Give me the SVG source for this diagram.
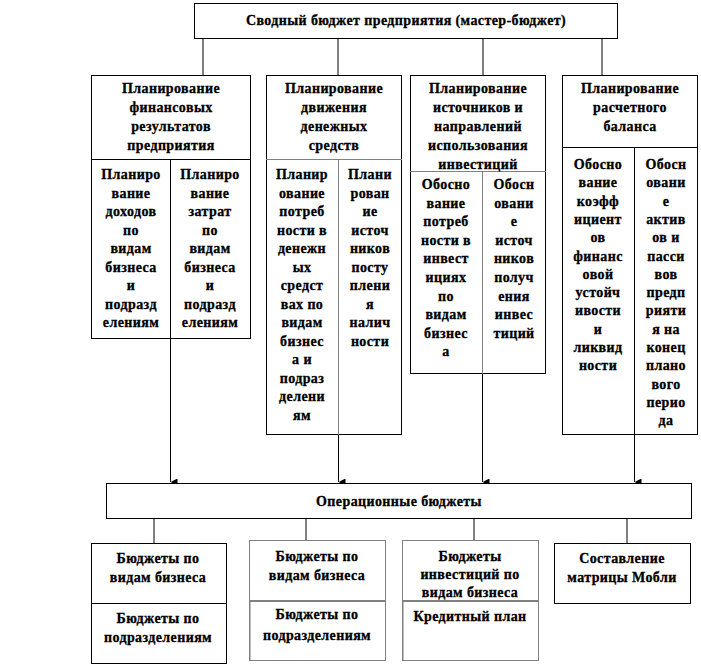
<svg xmlns="http://www.w3.org/2000/svg" width="701" height="666" viewBox="0 0 701 666" font-family="Liberation Serif, Times New Roman, serif">
<style>
text{font-weight:700;font-size:14px;letter-spacing:0.4px;text-anchor:middle;fill:#000;stroke:#000;stroke-width:0.3}
.b{fill:#fff;stroke:#000;stroke-width:1}
.d{fill:#fff;stroke:#000;stroke-width:1;stroke-dasharray:1 1}
.g{stroke:#808080;stroke-width:1}
.g2{stroke:#808080;stroke-width:2}
.ln{stroke:#000;stroke-width:1;fill:none}
</style>
<defs>
<marker id="ah" viewBox="0 0 8 8" refX="4" refY="8" markerWidth="7" markerHeight="7" markerUnits="userSpaceOnUse" orient="auto-start-reverse">
<path d="M0,0 L8,0 L4,8 Z" fill="#000"/>
</marker>
</defs>
<rect width="701" height="666" fill="#fff"/>

<g id="connectors">
<line class="ln" x1="203" y1="39" x2="203" y2="75"/>
<line class="ln" x1="338" y1="39" x2="338" y2="75"/>
<line class="ln" x1="483" y1="39" x2="483" y2="75"/>
<line class="ln" x1="602" y1="39" x2="602" y2="75"/>
<line class="ln" x1="170.5" y1="339" x2="170.5" y2="482" marker-end="url(#ah)"/>
<line class="ln" x1="338.5" y1="435" x2="338.5" y2="482" marker-end="url(#ah)"/>
<line class="ln" x1="482.5" y1="374" x2="482.5" y2="482" marker-end="url(#ah)"/>
<line class="ln" x1="634.5" y1="435" x2="634.5" y2="482" marker-end="url(#ah)"/>
<line class="ln" x1="154" y1="519" x2="154" y2="543"/>
<line class="ln" x1="306" y1="519" x2="306" y2="540"/>
<line class="ln" x1="474" y1="519" x2="474" y2="540"/>
<line class="ln" x1="627" y1="519" x2="627" y2="543"/>
</g>

<g id="master">
<rect class="b" x="194.5" y="3.5" width="423" height="35"/>
<text x="406" y="25">Сводный бюджет предприятия (мастер-бюджет)</text>
</g>

<g id="col1">
<rect class="b" x="91.5" y="75.5" width="159" height="263"/>
<line class="ln" x1="91" y1="159.5" x2="251" y2="159.5"/>
<line class="ln" x1="170.5" y1="159" x2="170.5" y2="339"/>
<text><tspan x="171" y="93">Планирование</tspan><tspan x="171" y="112">финансовых</tspan><tspan x="171" y="131">результатов</tspan><tspan x="171" y="150">предприятия</tspan></text>
<text><tspan x="131" y="179">Планиро</tspan><tspan x="131" y="197.5">вание</tspan><tspan x="131" y="216">доходов</tspan><tspan x="131" y="234.5">по</tspan><tspan x="131" y="253">видам</tspan><tspan x="131" y="271.5">бизнеса</tspan><tspan x="131" y="290">и</tspan><tspan x="131" y="308.5">подразд</tspan><tspan x="131" y="327">елениям</tspan></text>
<text><tspan x="210" y="179">Планиро</tspan><tspan x="210" y="197.5">вание</tspan><tspan x="210" y="216">затрат</tspan><tspan x="210" y="234.5">по</tspan><tspan x="210" y="253">видам</tspan><tspan x="210" y="271.5">бизнеса</tspan><tspan x="210" y="290">и</tspan><tspan x="210" y="308.5">подразд</tspan><tspan x="210" y="327">елениям</tspan></text>
</g>

<g id="col2">
<rect class="b" x="266.5" y="75.5" width="135" height="359" stroke="#404040"/>
<line class="ln" x1="266" y1="434.5" x2="402" y2="434.5" stroke-dasharray="1 1"/>
<line class="g" x1="266" y1="159.5" x2="402" y2="159.5"/>
<line class="g" x1="338.5" y1="159" x2="338.5" y2="435"/>
<text><tspan x="334" y="93">Планирование</tspan><tspan x="334" y="112">движения</tspan><tspan x="334" y="131">денежных</tspan><tspan x="334" y="150">средств</tspan></text>
<text><tspan x="302" y="179">Планир</tspan><tspan x="302" y="197.5">ование</tspan><tspan x="302" y="216">потреб</tspan><tspan x="302" y="234.5">ности в</tspan><tspan x="302" y="253">денежн</tspan><tspan x="302" y="271.5">ых</tspan><tspan x="302" y="290">средст</tspan><tspan x="302" y="308.5">вах по</tspan><tspan x="302" y="327">видам</tspan><tspan x="302" y="345.5">бизнес</tspan><tspan x="302" y="364">а и</tspan><tspan x="302" y="382.5">подраз</tspan><tspan x="302" y="401">делени</tspan><tspan x="302" y="419.5">ям</tspan></text>
<text><tspan x="370" y="179">Плани</tspan><tspan x="370" y="197.5">рован</tspan><tspan x="370" y="216">ие</tspan><tspan x="370" y="234.5">источ</tspan><tspan x="370" y="253">ников</tspan><tspan x="370" y="271.5">посту</tspan><tspan x="370" y="290">плени</tspan><tspan x="370" y="308.5">я</tspan><tspan x="370" y="327">налич</tspan><tspan x="370" y="345.5">ности</tspan></text>
</g>

<g id="col3">
<rect class="b" x="410.5" y="75.5" width="135" height="298" stroke="#404040"/>
<line class="ln" x1="410" y1="373.5" x2="546" y2="373.5" stroke-dasharray="1 1"/>
<line class="g" x1="410" y1="171.5" x2="546" y2="171.5"/>
<line class="g" x1="482.5" y1="171" x2="482.5" y2="374"/>
<text><tspan x="478" y="93">Планирование</tspan><tspan x="478" y="112">источников и</tspan><tspan x="478" y="131">направлений</tspan><tspan x="478" y="150">использования</tspan><tspan x="478" y="168.5">инвестиций</tspan></text>
<text><tspan x="446" y="189">Обосно</tspan><tspan x="446" y="207.6">вание</tspan><tspan x="446" y="226.2">потреб</tspan><tspan x="446" y="244.8">ности в</tspan><tspan x="446" y="263.4">инвест</tspan><tspan x="446" y="282">ициях</tspan><tspan x="446" y="300.6">по</tspan><tspan x="446" y="319.2">видам</tspan><tspan x="446" y="337.8">бизнес</tspan><tspan x="446" y="356.4">а</tspan></text>
<text><tspan x="514" y="189">Обосн</tspan><tspan x="514" y="207.6">овани</tspan><tspan x="514" y="226.2">е</tspan><tspan x="514" y="244.8">источ</tspan><tspan x="514" y="263.4">ников</tspan><tspan x="514" y="282">получ</tspan><tspan x="514" y="300.6">ения</tspan><tspan x="514" y="319.2">инвес</tspan><tspan x="514" y="337.8">тиций</tspan></text>
</g>

<g id="col4">
<rect class="b" x="562.5" y="75.5" width="135" height="359"/>
<line class="ln" x1="562" y1="147.5" x2="698" y2="147.5"/>
<line class="ln" x1="634.5" y1="147" x2="634.5" y2="435"/>
<text><tspan x="630" y="93">Планирование</tspan><tspan x="630" y="112">расчетного</tspan><tspan x="630" y="131">баланса</tspan></text>
<text><tspan x="598" y="169">Обосно</tspan><tspan x="598" y="187.3">вание</tspan><tspan x="598" y="205.6">коэфф</tspan><tspan x="598" y="223.9">ициент</tspan><tspan x="598" y="242.2">ов</tspan><tspan x="598" y="260.5">финанс</tspan><tspan x="598" y="278.8">овой</tspan><tspan x="598" y="297.1">устойч</tspan><tspan x="598" y="315.4">ивости</tspan><tspan x="598" y="333.7">и</tspan><tspan x="598" y="352">ликвид</tspan><tspan x="598" y="370.3">ности</tspan></text>
<text><tspan x="666" y="169">Обосн</tspan><tspan x="666" y="187.3">овани</tspan><tspan x="666" y="205.6">е</tspan><tspan x="666" y="223.9">актив</tspan><tspan x="666" y="242.2">ов и</tspan><tspan x="666" y="260.5">пасси</tspan><tspan x="666" y="278.8">вов</tspan><tspan x="666" y="297.1">предп</tspan><tspan x="666" y="315.4">рияти</tspan><tspan x="666" y="333.7">я на</tspan><tspan x="666" y="352">конец</tspan><tspan x="666" y="370.3">плано</tspan><tspan x="666" y="388.6">вого</tspan><tspan x="666" y="406.9">перио</tspan><tspan x="666" y="425.2">да</tspan></text>
</g>

<g id="operational">
<rect class="b" x="106.5" y="483.5" width="585" height="35"/>
<text x="399" y="506">Операционные бюджеты</text>
</g>

<g id="b1">
<rect class="b" x="91.5" y="543.5" width="135" height="120"/>
<line class="ln" x1="91" y1="603.5" x2="227" y2="603.5"/>
<text><tspan x="158" y="563">Бюджеты по</tspan><tspan x="158" y="582">видам бизнеса</tspan><tspan x="158" y="623">Бюджеты по</tspan><tspan x="158" y="642">подразделениям</tspan></text>
</g>

<g id="b2">
<rect class="d" x="249.5" y="540.5" width="136" height="120"/>
<line class="g2" x1="250" y1="601" x2="386" y2="601"/>
<line class="g" x1="250" y1="601" x2="250" y2="660"/>
<text><tspan x="317" y="561">Бюджеты по</tspan><tspan x="317" y="580">видам бизнеса</tspan><tspan x="317" y="619">Бюджеты по</tspan><tspan x="317" y="640">подразделениям</tspan></text>
</g>

<g id="b3">
<rect class="d" x="402.5" y="540.5" width="136" height="120"/>
<line class="g2" x1="403" y1="601" x2="539" y2="601"/>
<line class="g" x1="403" y1="601" x2="403" y2="660"/>
<text><tspan x="470" y="561">Бюджеты</tspan><tspan x="470" y="579">инвестиций по</tspan><tspan x="470" y="597">видам бизнеса</tspan><tspan x="470" y="621">Кредитный план</tspan></text>
</g>

<g id="b4">
<rect class="b" x="554.5" y="543.5" width="136" height="60"/>
<text><tspan x="622" y="563">Составление</tspan><tspan x="622" y="582">матрицы Мобли</tspan></text>
</g>
</svg>
